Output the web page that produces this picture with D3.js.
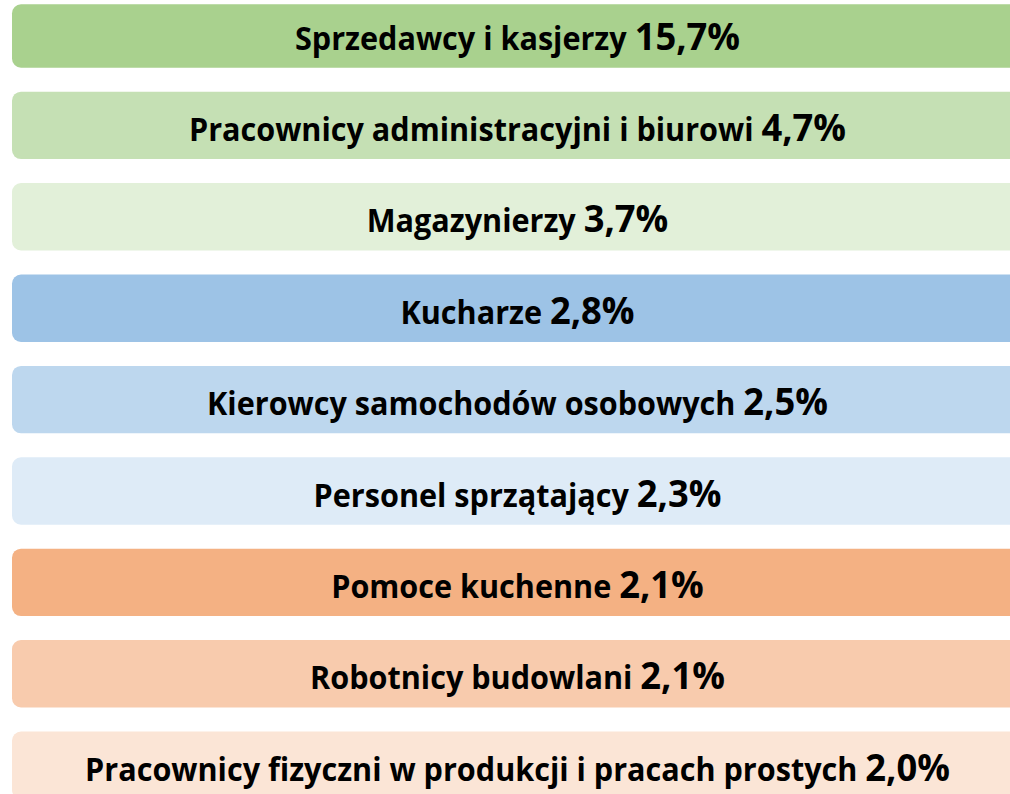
<!DOCTYPE html>
<html>
<head>
<meta charset="utf-8">
<script src="https://cdn.jsdelivr.net/npm/d3@7"></script>
<style>
  html, body { margin: 0; padding: 0; background: #fff; }
  svg { display: block; }
</style>
</head>
<body>
<script>
// occupations and their share (%)
const occupations = [
  "Sprzedawcy i kasjerzy",
  "Pracownicy administracyjni i biurowi",
  "Magazynierzy",
  "Kucharze",
  "Kierowcy samochodów osobowych",
  "Personel sprzątający",
  "Pomoce kuchenne",
  "Robotnicy budowlani",
  "Pracownicy fizyczni w produkcji i pracach prostych"
]
const shares = [15.7, 4.7, 3.7, 2.8, 2.5, 2.3, 2.1, 2.1, 2.0]
const fills = ["#A9D18E", "#C5E0B4", "#E2F0D9", "#9DC3E6", "#BDD7EE", "#DEEBF7", "#F4B183", "#F8CBAD", "#FBE5D6"]

const width = 1010
const height = 794
const fontFamily = "'Open Sans', 'Lato', sans-serif"

const data = occupations.map((name, i) => ({name, share: shares[i], fill: fills[i]}))
const fmt = v => v.toFixed(1).replace(".", ",") + "%"

const y = d3.scaleBand()
  .domain(occupations)
  .range([0.3, 0.3 + 9 * 91.4 - 24])
  .paddingInner(24 / 91.4)
  .paddingOuter(0)

const svg = d3.select("body").append("svg")
  .attr("width", width)
  .attr("height", height)

// the picture is cut at the top, first box starts a bit lower
const topCut = 4.3

svg.append("g")
  .selectAll("rect")
  .data(data)
  .join("rect")
    .attr("x", 12)
    .attr("y", d => Math.max(y(d.name), topCut))
    .attr("width", 1011)
    .attr("height", d => y.bandwidth() - (Math.max(y(d.name), topCut) - y(d.name)))
    .attr("rx", 9)
    .attr("fill", d => d.fill)

const labels = svg.append("g")
  .selectAll("g")
  .data(data)
  .join("g")
    .attr("transform", d => `translate(517.5,${y(d.name) + y.bandwidth() / 2 + 15.5})`)

const txt = labels.append("text")
  .attr("text-anchor", "middle")
  .attr("font-family", fontFamily)
  .attr("font-weight", "bold")
  .attr("fill", "#000")

txt.append("tspan")
  .attr("font-size", 32)
  .text(d => d.name + " ")
txt.append("tspan")
  .attr("font-size", 38)
  .text(d => fmt(d.share))

// squeeze to calibri-like width: longest label is ~865px wide in the original
const widest = d3.max(txt.nodes(), n => n.getComputedTextLength())
const sx = Math.min(1, 865 / widest)
txt.attr("transform", `scale(${sx},1)`)
</script>
</body>
</html>
